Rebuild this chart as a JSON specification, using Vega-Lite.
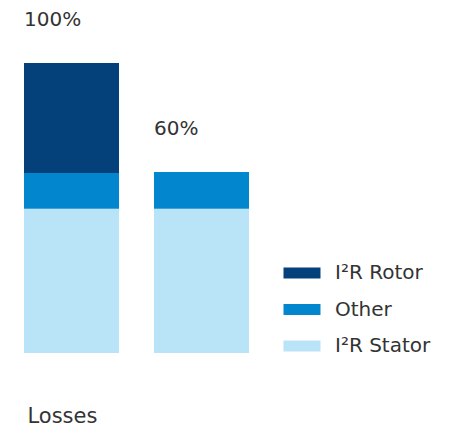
{
  "$schema": "https://vega.github.io/schema/vega-lite/v6.json",
  "autosize": {"type": "none"},
  "width": 462,
  "height": 290,
  "padding": {"top": 63, "bottom": 77, "left": 0, "right": 0},
  "background": "white",
  "config": {"view": {"stroke": null}, "font": "DejaVu Sans"},
  "datasets": {
    "bars": [
      {"cat": "A", "part": "I²R Stator", "value": 49.7, "ord": 1},
      {"cat": "A", "part": "Other", "value": 12.4, "ord": 2},
      {"cat": "A", "part": "I²R Rotor", "value": 37.9, "ord": 3},
      {"cat": "B", "part": "I²R Stator", "value": 49.7, "ord": 1},
      {"cat": "B", "part": "Other", "value": 12.7, "ord": 2}
    ],
    "labels": [
      {"cat": "A", "total": 100, "label": "100%"},
      {"cat": "B", "total": 62.4, "label": "60%"}
    ]
  },
  "layer": [
    {
      "data": {"name": "bars"},
      "mark": {"type": "bar"},
      "encoding": {
        "x": {
          "field": "cat", "type": "nominal",
          "scale": {"range": [24, 249], "paddingInner": 0.269, "paddingOuter": 0},
          "axis": {"labels": false, "ticks": false, "domain": false, "title": "Losses",
                   "titleX": 27, "titleY": 63, "titleAlign": "left", "titleBaseline": "middle",
                   "titleFont": "DejaVu Sans", "titleFontSize": 21, "titleFontWeight": "normal", "titleColor": "#333333"}
        },
        "y": {"field": "value", "type": "quantitative", "stack": "zero",
              "scale": {"domain": [0, 100], "nice": false}, "axis": null},
        "order": {"field": "ord", "type": "quantitative"},
        "color": {
          "field": "part", "type": "nominal",
          "scale": {"domain": ["I²R Rotor", "Other", "I²R Stator"], "range": ["#04407A", "#0287CE", "#B9E3F7"]},
          "legend": {
            "orient": "none", "legendX": 292, "legendY": 200, "title": null,
            "symbolType": "M-2,-0.6H2V0.6H-2Z", "symbolSize": 342, "symbolStrokeWidth": 0, "symbolOpacity": 1,
            "labelFont": "DejaVu Sans", "labelFontSize": 20, "labelColor": "#333333",
            "rowPadding": 16.5, "labelOffset": 23
          }
        }
      }
    },
    {
      "data": {"name": "labels"},
      "mark": {"type": "text", "align": "left", "baseline": "middle", "dy": -43, "fontSize": 20, "font": "DejaVu Sans", "color": "#333333"},
      "encoding": {
        "x": {"field": "cat", "type": "nominal", "bandPosition": 0},
        "y": {"field": "total", "type": "quantitative"},
        "text": {"field": "label"}
      }
    }
  ]
}
